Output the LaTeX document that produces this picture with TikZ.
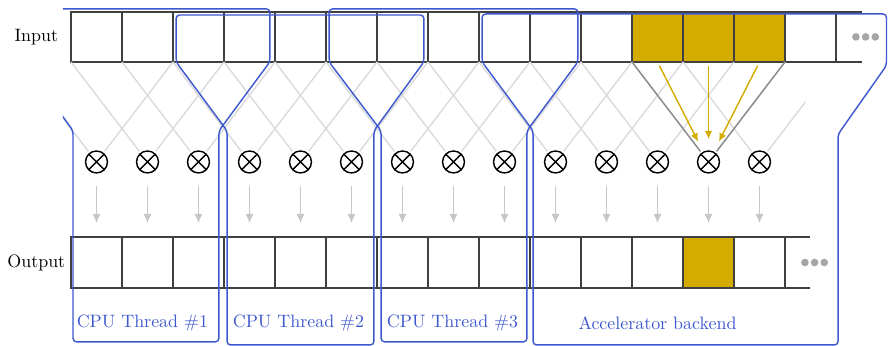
\documentclass[tikz,border=0pt]{standalone}
\usepackage{tikz}
\usetikzlibrary{arrows.meta}
\definecolor{hlyellow}{RGB}{212,172,0}
\definecolor{thrblue}{RGB}{62,88,208}

\begin{document}
\begin{tikzpicture}[
    cell/.style={draw=black!75, line width=0.8pt, minimum width=1cm, minimum height=0.98cm, inner sep=0pt, outer sep=0pt},
    ocell/.style={cell, minimum height=1cm},
    hot/.style={fill=hlyellow},
    mult/.style={circle, draw, line width=0.8pt, minimum size=0.43cm, inner sep=0pt,
      path picture={\draw[line width=0.8pt] (path picture bounding box.north west) -- (path picture bounding box.south east)
        (path picture bounding box.north east) -- (path picture bounding box.south west);}},
    wire/.style={black!14, line width=0.8pt, shorten >=1pt},
    hotwire/.style={black!45, line width=0.8pt, shorten >=1pt},
    flow/.style={black!22, line width=0.8pt, shorten <=0.25cm, shorten >=0.27cm, -{Latex[length=5.2pt,width=4.6pt]}},
    hotflow/.style={hlyellow, line width=0.8pt, shorten <=0.08cm, shorten >=0.22cm, -{Latex[length=4.6pt,width=4.2pt]}},
    rowline/.style={black!75, line width=0.8pt},
    more/.style={black!35},
    thread/.style={thrblue, line width=0.8pt, rounded corners=2pt},
    tlabel/.style={text=thrblue}
  ]
  \useasboundingbox (-1.392, 0) rectangle (16.039, 6.784);

  \node (lblin) at (-0.68, 6.06) {Input};
  \node (lblout) at (-0.68, 1.637) {Output};

  \foreach \k in {0,...,14} {
    \node[cell] (in\k) at (\k+0.5, 6.059) {};
  }
  \foreach \k in {11,12,13} {
    \node[cell, hot] at (in\k) {};
  }
  \draw[rowline] (15, 6.549) -- (15.5, 6.549) (15, 5.569) -- (15.5, 5.569);
  \foreach \x in {15.39, 15.58, 15.77} \fill[more] (\x, 6.06) circle (0.075);

  \foreach \k in {0,...,13} {
    \node[mult] (m\k) at (\k+0.5, 3.608) {};
    \node[ocell] (out\k) at (\k+0.5, 1.637) {};
  }
  \node[ocell, hot] at (out12) {};
  \draw[rowline] (14, 2.137) -- (14.49, 2.137) (14, 1.137) -- (14.49, 1.137);
  \foreach \x in {14.39, 14.58, 14.77} \fill[more] (\x, 1.637) circle (0.075);

  \foreach \j in {-1,...,15} {
    \coordinate (ib\j) at (\j, 5.569);
  }
  \begin{scope}
    \clip (-0.16, 0) rectangle (14.4, 6.784);
    \foreach \k [evaluate=\k as \l using int(\k-1), evaluate=\k as \r using int(\k+2)] in {0,...,13} {
      \draw[wire] (ib\l) -- (m\k);
      \draw[wire] (ib\r) -- (m\k);
    }
  \end{scope}
  \draw[hotwire] (ib11) -- (m12);
  \draw[hotwire] (ib14) -- (m12);
  \foreach \k in {11,12,13} {
    \draw[hotflow] (in\k.south) -- (m12);
  }

  \foreach \k in {0,...,13} {
    \draw[flow] (m\k) -- (out\k);
  }

  \begin{scope}
    \clip (-0.16, 0) rectangle (16.039, 6.784);
    \draw[thread] (-0.93, 6.61) -- (3.9, 6.61) -- (3.9, 5.57) -- (2.9, 4.22) -- (2.9, 0.08)
      -- (0.04, 0.08) -- (0.04, 4.22) -- (-0.93, 5.57) -- cycle;
    \draw[thread] (2.06, 6.49) -- (6.92, 6.49) -- (6.92, 5.57) -- (5.94, 4.22) -- (5.94, 0.02)
      -- (3.06, 0.02) -- (3.06, 4.22) -- (2.06, 5.57) -- cycle;
    \draw[thread] (5.06, 6.61) -- (9.94, 6.61) -- (9.94, 5.57) -- (8.94, 4.22) -- (8.94, 0.08)
      -- (6.08, 0.08) -- (6.08, 4.22) -- (5.06, 5.57) -- cycle;
    \draw[thread] (8.06, 6.51) -- (15.99, 6.51) -- (15.99, 5.5) -- (15.04, 4.15) -- (15.04, 0.02)
      -- (9.06, 0.02) -- (9.06, 4.22) -- (8.06, 5.57) -- cycle;
  \end{scope}

  \node[tlabel] (thr1) at (1.4, 0.45) {CPU Thread \#1};
  \node[tlabel] (thr2) at (4.46, 0.45) {CPU Thread \#2};
  \node[tlabel] (thr3) at (7.48, 0.45) {CPU Thread \#3};
  \node[tlabel] (accel) at (11.5, 0.45) {Accelerator backend};
\end{tikzpicture}
\end{document}
